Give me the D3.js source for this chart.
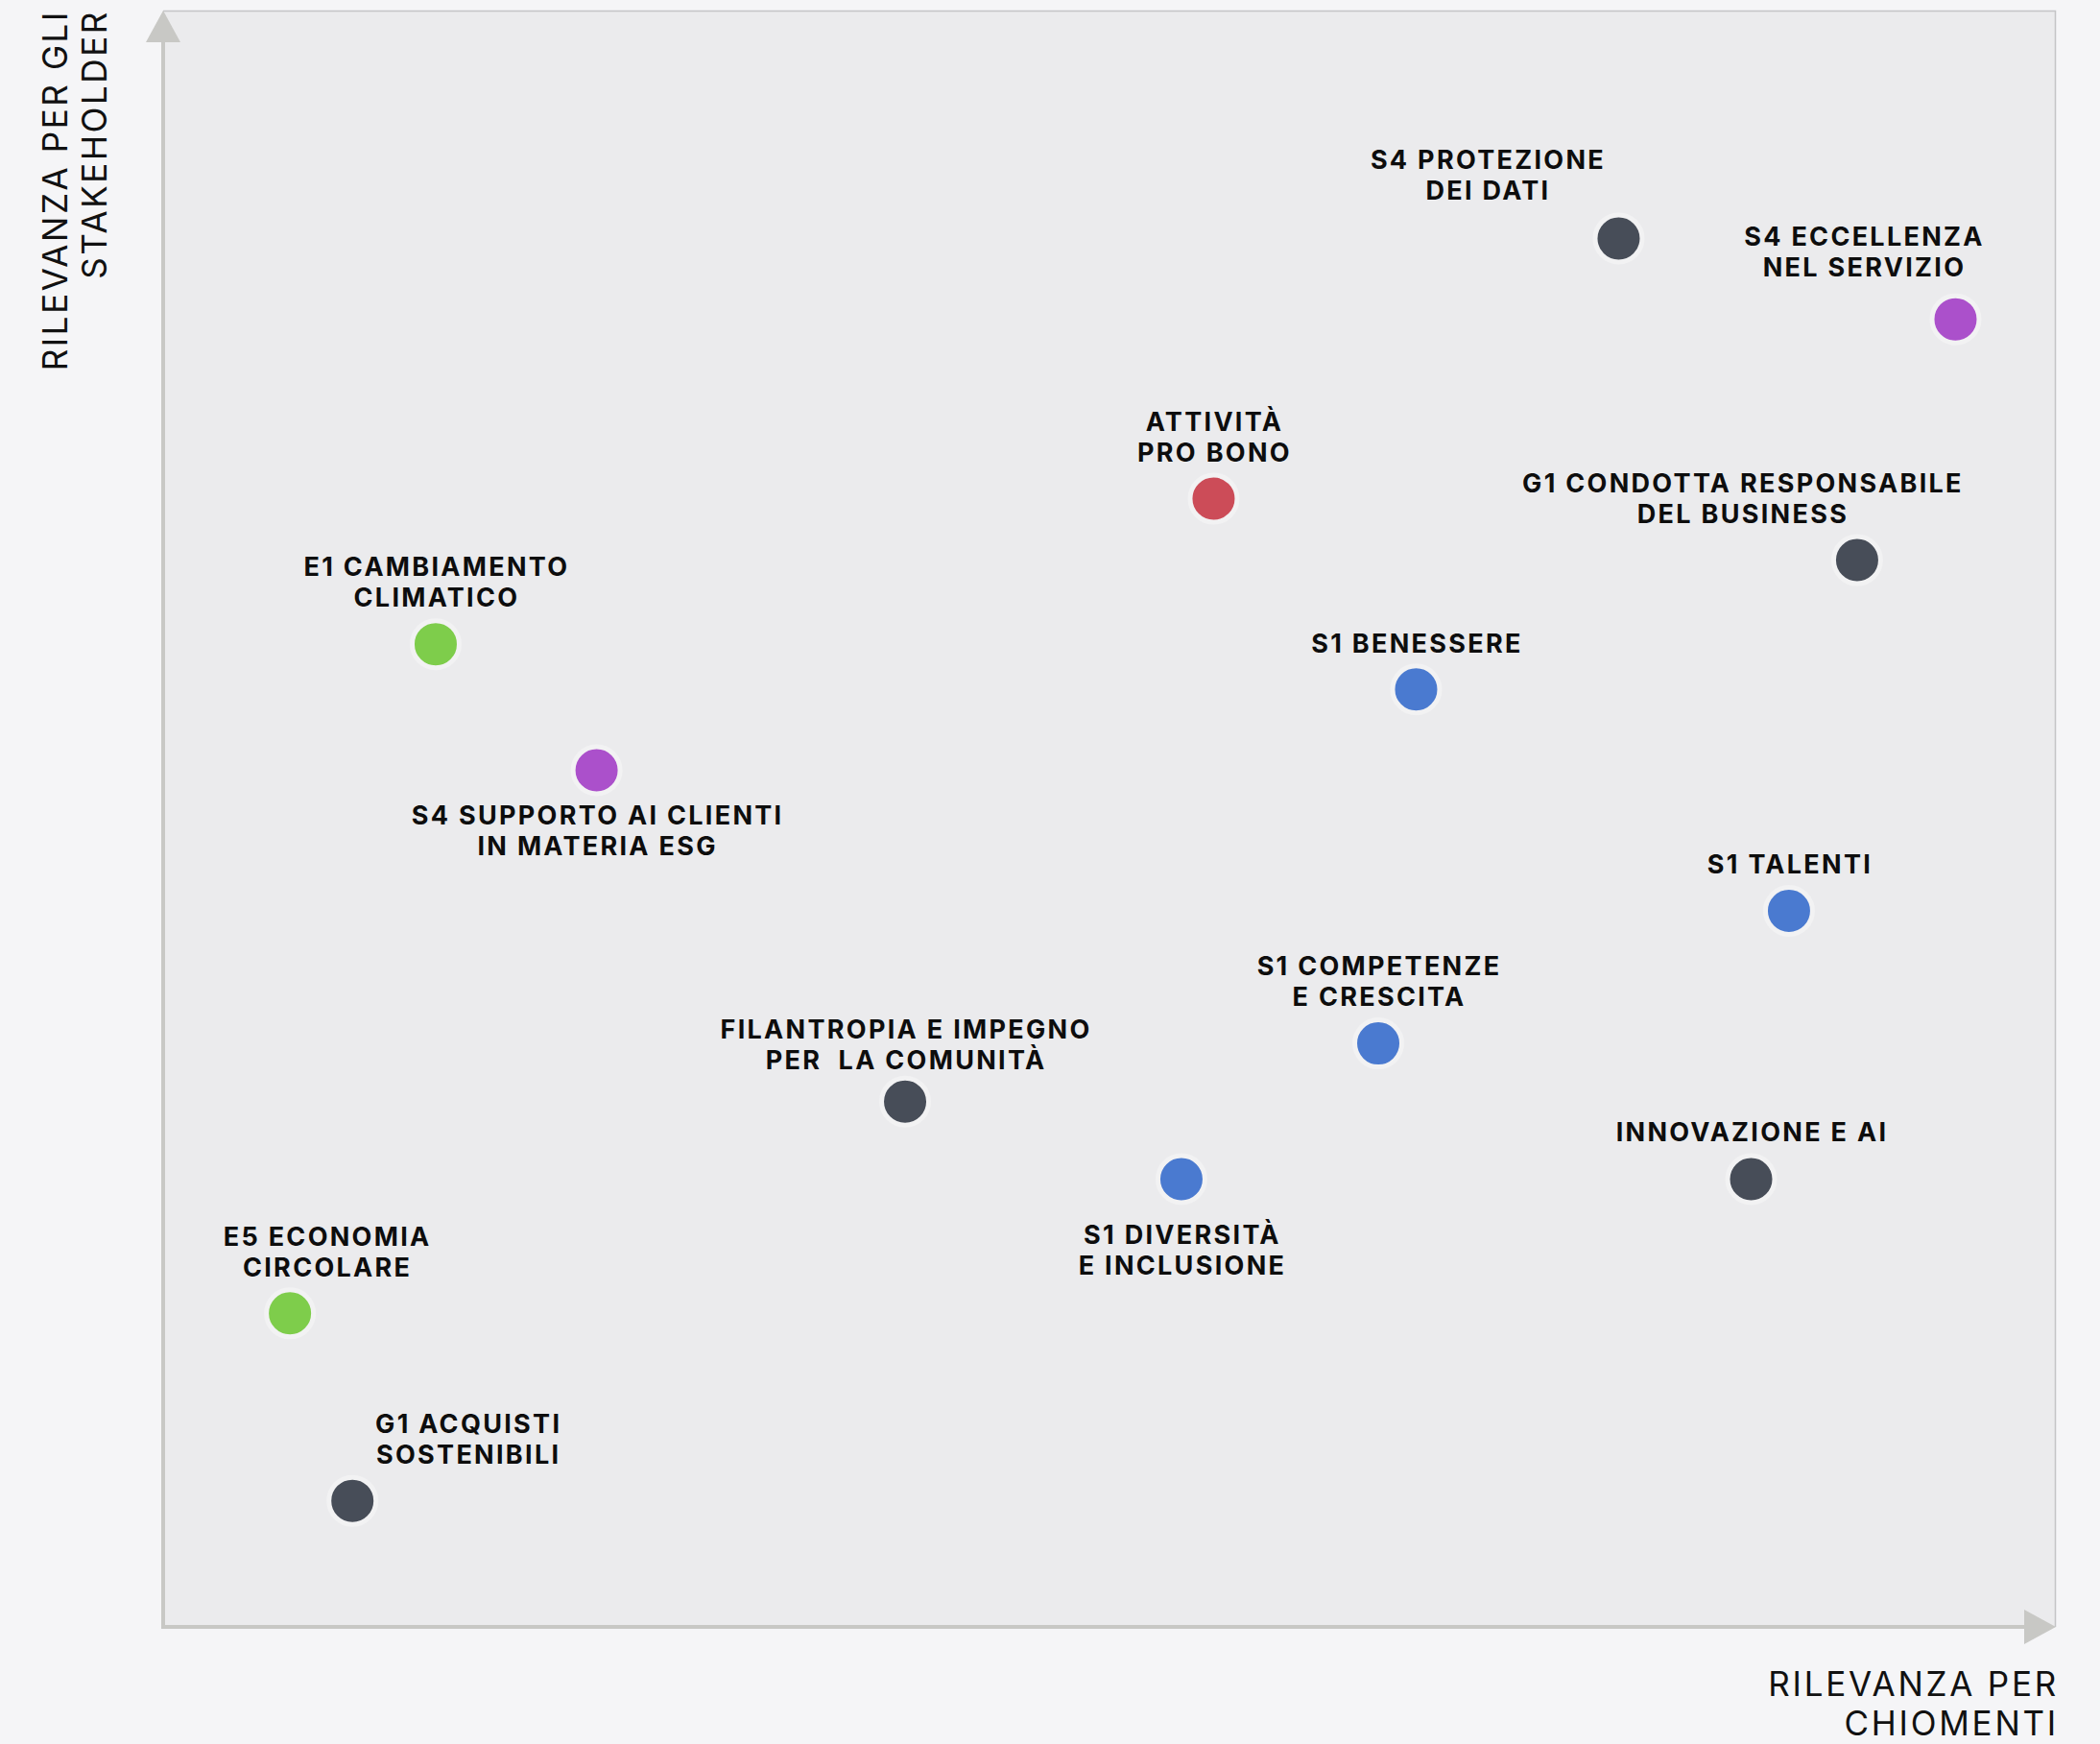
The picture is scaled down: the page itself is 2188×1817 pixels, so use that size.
<!DOCTYPE html>
<html>
<head>
<meta charset="utf-8">
<script src="https://cdn.jsdelivr.net/npm/d3@7/dist/d3.min.js"></script>
<style>
html,body{margin:0;padding:0;background:#f5f5f7;}
svg{display:block;}
</style>
</head>
<body>
<svg id="chart" width="2188" height="1817"></svg>
<script>
// ---- data ----
const topics = [
  "S4 PROTEZIONE|DEI DATI",
  "S4 ECCELLENZA|NEL SERVIZIO",
  "ATTIVITÀ|PRO BONO",
  "G1 CONDOTTA RESPONSABILE|DEL BUSINESS",
  "E1 CAMBIAMENTO|CLIMATICO",
  "S1 BENESSERE",
  "S4 SUPPORTO AI CLIENTI|IN MATERIA ESG",
  "S1 TALENTI",
  "S1 COMPETENZE|E CRESCITA",
  "FILANTROPIA E IMPEGNO|PER  LA COMUNITÀ",
  "S1 DIVERSITÀ|E INCLUSIONE",
  "INNOVAZIONE E AI",
  "E5 ECONOMIA|CIRCOLARE",
  "G1 ACQUISTI|SOSTENIBILI"
];
const relevanceChiomenti =    [76.9, 94.7, 55.5, 89.5, 14.4, 66.2, 22.9, 85.9, 64.2, 39.2, 53.8, 83.9, 6.7, 10.0];
const relevanceStakeholder =  [85.9, 80.9, 69.8, 66.0, 60.8, 58.0, 53.0, 44.3, 36.1, 32.5, 27.7, 27.7, 19.4, 7.8];
const groups = ["G","S4","P","G","E","S1","S4","S1","S1","G","S1","G","E","G"];
const groupNames = ["G","S4","P","E","S1"];
const groupColors = ["#474d58","#ab50cb","#cc4c58","#7ecd4b","#4a7ad0"];
// label placement: side of the dot and small nudges (px)
const labelSide = ["top","top","top","top","top","top","bottom","top","top","top","bottom","top","top","top"];
const labelDx =   [-137, -96, 0, -120, 0, 0, 0, 0, 0, 0, 0, 0, 38, 120];
const labelDy =   [-1, -6, 0, 0, 0, 1, 0, 0, 0, 5, 10, -1, 1, 0];
const xAxisLabel = ["RILEVANZA PER","CHIOMENTI"];
const yAxisLabel = ["RILEVANZA PER GLI","STAKEHOLDER"];

(function(){
// ---- layout ----
const pL = 170, pR = 2142, pT = 11, pB = 1695;
const svg = d3.select("#chart");

const x = d3.scaleLinear().domain([0,100]).range([pL, pR]);
const y = d3.scaleLinear().domain([0,100]).range([pB, pT]);
const color = d3.scaleOrdinal().domain(groupNames).range(groupColors);

// plot background
svg.append("rect").attr("x", pL).attr("y", pT)
  .attr("width", pR-pL).attr("height", pB-pT)
  .attr("fill", "#ebebed");
// thin frame top/right
svg.append("path")
  .attr("d", `M${pL},${pT+0.5}H${pR-0.5}V${pB}`)
  .attr("fill","none").attr("stroke","#c4c4c6").attr("stroke-width",1.5);

// axes (arrows)
const axisCol = "#c8c8c5";
svg.append("line").attr("x1", pL).attr("x2", pL)
  .attr("y1", pB+2).attr("y2", pT+30)
  .attr("stroke", axisCol).attr("stroke-width", 4);
svg.append("path")
  .attr("d", `M${pL},${pT} L${pL+18},${pT+33} L${pL-18},${pT+33} Z`)
  .attr("fill", axisCol);
svg.append("line").attr("x1", pL-2).attr("x2", pR-30)
  .attr("y1", pB).attr("y2", pB)
  .attr("stroke", axisCol).attr("stroke-width", 4);
svg.append("path")
  .attr("d", `M${pR},${pB} L${pR-33},${pB-18} L${pR-33},${pB+18} Z`)
  .attr("fill", axisCol);

// axis titles
const axisFont = "Inter, 'Noto Sans', sans-serif";
const xt = svg.append("text")
  .attr("text-anchor","end")
  .attr("font-family", axisFont).attr("font-size", 35)
  .attr("letter-spacing", 2.75).attr("fill", "#111");
xAxisLabel.forEach((t,i)=> xt.append("tspan").attr("x", pR+3).attr("y", 1767 + i*41).text(t));

const yt = svg.append("text")
  .attr("text-anchor","end")
  .attr("transform", "rotate(-90)")
  .attr("font-family", axisFont).attr("font-size", 35)
  .attr("letter-spacing", 2.6).attr("fill", "#111");
yAxisLabel.forEach((t,i)=> yt.append("tspan").attr("x", -10).attr("y", 70 + i*41).text(t));

// points
const data = topics.map((t,i)=>({
  label: t.split("|"), x: relevanceChiomenti[i], y: relevanceStakeholder[i],
  g: groups[i], side: labelSide[i], dx: labelDx[i], dy: labelDy[i]
}));

const pts = svg.append("g");
pts.selectAll("circle").data(data).join("circle")
  .attr("cx", d=>x(d.x)).attr("cy", d=>y(d.y)).attr("r", 24.5)
  .attr("fill", d=>color(d.g))
  .attr("stroke", "#f2f2f3").attr("stroke-width", 5);

const lineH = 32;
const labels = svg.append("g")
  .attr("font-family", "Inter, 'Noto Sans', sans-serif")
  .attr("font-weight", 700).attr("font-size", 27)
  .attr("letter-spacing", 2.3).attr("fill", "#0d0d0d")
  .attr("text-anchor","middle")
  .style("white-space", "pre");
data.forEach(d=>{
  const cx = x(d.x) + d.dx + 1, cy = y(d.y);
  const n = d.label.length;
  const firstBase = d.side === "top" ? cy - 39 - (n-1)*lineH + d.dy : cy + 57 + d.dy;
  const t = labels.append("text").attr("xml:space", "preserve");
  d.label.forEach((l,i)=> t.append("tspan").attr("x", cx).attr("y", firstBase + i*lineH).text(l));
});
})();
</script>
</body>
</html>
